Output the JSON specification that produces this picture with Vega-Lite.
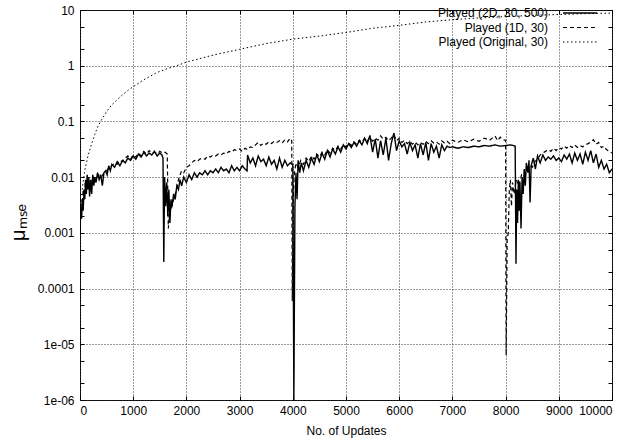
{
  "$schema": "https://vega.github.io/schema/vega-lite/v6.json",
  "width": 532,
  "height": 390,
  "autosize": {"type": "none"},
  "padding": {"left": 80, "top": 10, "right": 17, "bottom": 40},
  "background": "white",
  "config": {
    "font": "Liberation Sans",
    "view": {"stroke": "black", "strokeWidth": 1},
    "axis": {
      "labelFont": "Liberation Sans", "labelFontSize": 12, "labelColor": "black",
      "titleFont": "Liberation Sans", "titleFontSize": 12, "titleFontWeight": "normal", "titleColor": "black",
      "domain": false, "tickColor": "black", "tickWidth": 1,
      "gridColor": "#333", "gridDash": [1, 2], "gridWidth": 1
    },
    "legend": {"labelFont": "Liberation Sans", "labelFontSize": 12, "labelColor": "black"}
  },
  "data": {
    "values": [
      {"update": 0, "mse": 0.001, "series": "Played (2D, 30, 500)"},
      {"update": 15, "mse": 0.003, "series": "Played (2D, 30, 500)"},
      {"update": 30, "mse": 0.0018, "series": "Played (2D, 30, 500)"},
      {"update": 45, "mse": 0.004, "series": "Played (2D, 30, 500)"},
      {"update": 60, "mse": 0.0025, "series": "Played (2D, 30, 500)"},
      {"update": 75, "mse": 0.006, "series": "Played (2D, 30, 500)"},
      {"update": 90, "mse": 0.004, "series": "Played (2D, 30, 500)"},
      {"update": 105, "mse": 0.009, "series": "Played (2D, 30, 500)"},
      {"update": 120, "mse": 0.005, "series": "Played (2D, 30, 500)"},
      {"update": 135, "mse": 0.011, "series": "Played (2D, 30, 500)"},
      {"update": 150, "mse": 0.006, "series": "Played (2D, 30, 500)"},
      {"update": 165, "mse": 0.01, "series": "Played (2D, 30, 500)"},
      {"update": 180, "mse": 0.0045, "series": "Played (2D, 30, 500)"},
      {"update": 200, "mse": 0.009, "series": "Played (2D, 30, 500)"},
      {"update": 220, "mse": 0.005, "series": "Played (2D, 30, 500)"},
      {"update": 240, "mse": 0.011, "series": "Played (2D, 30, 500)"},
      {"update": 260, "mse": 0.007, "series": "Played (2D, 30, 500)"},
      {"update": 280, "mse": 0.01, "series": "Played (2D, 30, 500)"},
      {"update": 300, "mse": 0.008, "series": "Played (2D, 30, 500)"},
      {"update": 330, "mse": 0.012, "series": "Played (2D, 30, 500)"},
      {"update": 360, "mse": 0.009, "series": "Played (2D, 30, 500)"},
      {"update": 390, "mse": 0.011, "series": "Played (2D, 30, 500)"},
      {"update": 420, "mse": 0.007, "series": "Played (2D, 30, 500)"},
      {"update": 450, "mse": 0.012, "series": "Played (2D, 30, 500)"},
      {"update": 480, "mse": 0.013, "series": "Played (2D, 30, 500)"},
      {"update": 510, "mse": 0.011, "series": "Played (2D, 30, 500)"},
      {"update": 540, "mse": 0.016, "series": "Played (2D, 30, 500)"},
      {"update": 570, "mse": 0.013, "series": "Played (2D, 30, 500)"},
      {"update": 600, "mse": 0.017, "series": "Played (2D, 30, 500)"},
      {"update": 650, "mse": 0.015, "series": "Played (2D, 30, 500)"},
      {"update": 700, "mse": 0.019, "series": "Played (2D, 30, 500)"},
      {"update": 750, "mse": 0.016, "series": "Played (2D, 30, 500)"},
      {"update": 800, "mse": 0.02, "series": "Played (2D, 30, 500)"},
      {"update": 850, "mse": 0.018, "series": "Played (2D, 30, 500)"},
      {"update": 900, "mse": 0.022, "series": "Played (2D, 30, 500)"},
      {"update": 950, "mse": 0.02, "series": "Played (2D, 30, 500)"},
      {"update": 1000, "mse": 0.024, "series": "Played (2D, 30, 500)"},
      {"update": 1050, "mse": 0.021, "series": "Played (2D, 30, 500)"},
      {"update": 1100, "mse": 0.026, "series": "Played (2D, 30, 500)"},
      {"update": 1150, "mse": 0.023, "series": "Played (2D, 30, 500)"},
      {"update": 1200, "mse": 0.028, "series": "Played (2D, 30, 500)"},
      {"update": 1250, "mse": 0.024, "series": "Played (2D, 30, 500)"},
      {"update": 1300, "mse": 0.027, "series": "Played (2D, 30, 500)"},
      {"update": 1350, "mse": 0.025, "series": "Played (2D, 30, 500)"},
      {"update": 1400, "mse": 0.029, "series": "Played (2D, 30, 500)"},
      {"update": 1450, "mse": 0.024, "series": "Played (2D, 30, 500)"},
      {"update": 1500, "mse": 0.027, "series": "Played (2D, 30, 500)"},
      {"update": 1540, "mse": 0.025, "series": "Played (2D, 30, 500)"},
      {"update": 1560, "mse": 0.022, "series": "Played (2D, 30, 500)"},
      {"update": 1575, "mse": 0.0003, "series": "Played (2D, 30, 500)"},
      {"update": 1590, "mse": 0.01, "series": "Played (2D, 30, 500)"},
      {"update": 1610, "mse": 0.003, "series": "Played (2D, 30, 500)"},
      {"update": 1630, "mse": 0.008, "series": "Played (2D, 30, 500)"},
      {"update": 1650, "mse": 0.002, "series": "Played (2D, 30, 500)"},
      {"update": 1670, "mse": 0.006, "series": "Played (2D, 30, 500)"},
      {"update": 1690, "mse": 0.0015, "series": "Played (2D, 30, 500)"},
      {"update": 1710, "mse": 0.004, "series": "Played (2D, 30, 500)"},
      {"update": 1730, "mse": 0.003, "series": "Played (2D, 30, 500)"},
      {"update": 1760, "mse": 0.005, "series": "Played (2D, 30, 500)"},
      {"update": 1790, "mse": 0.004, "series": "Played (2D, 30, 500)"},
      {"update": 1820, "mse": 0.007, "series": "Played (2D, 30, 500)"},
      {"update": 1850, "mse": 0.006, "series": "Played (2D, 30, 500)"},
      {"update": 1880, "mse": 0.009, "series": "Played (2D, 30, 500)"},
      {"update": 1910, "mse": 0.007, "series": "Played (2D, 30, 500)"},
      {"update": 1950, "mse": 0.01, "series": "Played (2D, 30, 500)"},
      {"update": 2000, "mse": 0.008, "series": "Played (2D, 30, 500)"},
      {"update": 2050, "mse": 0.011, "series": "Played (2D, 30, 500)"},
      {"update": 2100, "mse": 0.009, "series": "Played (2D, 30, 500)"},
      {"update": 2150, "mse": 0.012, "series": "Played (2D, 30, 500)"},
      {"update": 2200, "mse": 0.01, "series": "Played (2D, 30, 500)"},
      {"update": 2250, "mse": 0.012, "series": "Played (2D, 30, 500)"},
      {"update": 2300, "mse": 0.011, "series": "Played (2D, 30, 500)"},
      {"update": 2350, "mse": 0.013, "series": "Played (2D, 30, 500)"},
      {"update": 2400, "mse": 0.011, "series": "Played (2D, 30, 500)"},
      {"update": 2450, "mse": 0.013, "series": "Played (2D, 30, 500)"},
      {"update": 2500, "mse": 0.012, "series": "Played (2D, 30, 500)"},
      {"update": 2550, "mse": 0.014, "series": "Played (2D, 30, 500)"},
      {"update": 2600, "mse": 0.012, "series": "Played (2D, 30, 500)"},
      {"update": 2650, "mse": 0.015, "series": "Played (2D, 30, 500)"},
      {"update": 2700, "mse": 0.013, "series": "Played (2D, 30, 500)"},
      {"update": 2750, "mse": 0.014, "series": "Played (2D, 30, 500)"},
      {"update": 2800, "mse": 0.012, "series": "Played (2D, 30, 500)"},
      {"update": 2850, "mse": 0.016, "series": "Played (2D, 30, 500)"},
      {"update": 2900, "mse": 0.013, "series": "Played (2D, 30, 500)"},
      {"update": 2950, "mse": 0.015, "series": "Played (2D, 30, 500)"},
      {"update": 3000, "mse": 0.013, "series": "Played (2D, 30, 500)"},
      {"update": 3050, "mse": 0.016, "series": "Played (2D, 30, 500)"},
      {"update": 3100, "mse": 0.014, "series": "Played (2D, 30, 500)"},
      {"update": 3140, "mse": 0.013, "series": "Played (2D, 30, 500)"},
      {"update": 3150, "mse": 0.025, "series": "Played (2D, 30, 500)"},
      {"update": 3200, "mse": 0.018, "series": "Played (2D, 30, 500)"},
      {"update": 3250, "mse": 0.022, "series": "Played (2D, 30, 500)"},
      {"update": 3300, "mse": 0.016, "series": "Played (2D, 30, 500)"},
      {"update": 3350, "mse": 0.024, "series": "Played (2D, 30, 500)"},
      {"update": 3400, "mse": 0.019, "series": "Played (2D, 30, 500)"},
      {"update": 3450, "mse": 0.021, "series": "Played (2D, 30, 500)"},
      {"update": 3500, "mse": 0.016, "series": "Played (2D, 30, 500)"},
      {"update": 3550, "mse": 0.023, "series": "Played (2D, 30, 500)"},
      {"update": 3600, "mse": 0.017, "series": "Played (2D, 30, 500)"},
      {"update": 3650, "mse": 0.02, "series": "Played (2D, 30, 500)"},
      {"update": 3700, "mse": 0.014, "series": "Played (2D, 30, 500)"},
      {"update": 3750, "mse": 0.022, "series": "Played (2D, 30, 500)"},
      {"update": 3800, "mse": 0.015, "series": "Played (2D, 30, 500)"},
      {"update": 3850, "mse": 0.02, "series": "Played (2D, 30, 500)"},
      {"update": 3900, "mse": 0.016, "series": "Played (2D, 30, 500)"},
      {"update": 3950, "mse": 0.018, "series": "Played (2D, 30, 500)"},
      {"update": 4000, "mse": 0.017, "series": "Played (2D, 30, 500)"},
      {"update": 4020, "mse": 0.000001, "series": "Played (2D, 30, 500)"},
      {"update": 4040, "mse": 0.003, "series": "Played (2D, 30, 500)"},
      {"update": 4060, "mse": 0.012, "series": "Played (2D, 30, 500)"},
      {"update": 4080, "mse": 0.004, "series": "Played (2D, 30, 500)"},
      {"update": 4100, "mse": 0.02, "series": "Played (2D, 30, 500)"},
      {"update": 4130, "mse": 0.012, "series": "Played (2D, 30, 500)"},
      {"update": 4160, "mse": 0.018, "series": "Played (2D, 30, 500)"},
      {"update": 4200, "mse": 0.013, "series": "Played (2D, 30, 500)"},
      {"update": 4250, "mse": 0.02, "series": "Played (2D, 30, 500)"},
      {"update": 4300, "mse": 0.015, "series": "Played (2D, 30, 500)"},
      {"update": 4350, "mse": 0.022, "series": "Played (2D, 30, 500)"},
      {"update": 4400, "mse": 0.017, "series": "Played (2D, 30, 500)"},
      {"update": 4450, "mse": 0.025, "series": "Played (2D, 30, 500)"},
      {"update": 4500, "mse": 0.019, "series": "Played (2D, 30, 500)"},
      {"update": 4550, "mse": 0.027, "series": "Played (2D, 30, 500)"},
      {"update": 4600, "mse": 0.021, "series": "Played (2D, 30, 500)"},
      {"update": 4650, "mse": 0.03, "series": "Played (2D, 30, 500)"},
      {"update": 4700, "mse": 0.023, "series": "Played (2D, 30, 500)"},
      {"update": 4750, "mse": 0.032, "series": "Played (2D, 30, 500)"},
      {"update": 4800, "mse": 0.026, "series": "Played (2D, 30, 500)"},
      {"update": 4850, "mse": 0.035, "series": "Played (2D, 30, 500)"},
      {"update": 4900, "mse": 0.028, "series": "Played (2D, 30, 500)"},
      {"update": 4950, "mse": 0.038, "series": "Played (2D, 30, 500)"},
      {"update": 5000, "mse": 0.032, "series": "Played (2D, 30, 500)"},
      {"update": 5050, "mse": 0.04, "series": "Played (2D, 30, 500)"},
      {"update": 5100, "mse": 0.034, "series": "Played (2D, 30, 500)"},
      {"update": 5150, "mse": 0.042, "series": "Played (2D, 30, 500)"},
      {"update": 5200, "mse": 0.036, "series": "Played (2D, 30, 500)"},
      {"update": 5250, "mse": 0.045, "series": "Played (2D, 30, 500)"},
      {"update": 5300, "mse": 0.038, "series": "Played (2D, 30, 500)"},
      {"update": 5350, "mse": 0.05, "series": "Played (2D, 30, 500)"},
      {"update": 5400, "mse": 0.04, "series": "Played (2D, 30, 500)"},
      {"update": 5450, "mse": 0.056, "series": "Played (2D, 30, 500)"},
      {"update": 5500, "mse": 0.028, "series": "Played (2D, 30, 500)"},
      {"update": 5550, "mse": 0.048, "series": "Played (2D, 30, 500)"},
      {"update": 5600, "mse": 0.022, "series": "Played (2D, 30, 500)"},
      {"update": 5650, "mse": 0.045, "series": "Played (2D, 30, 500)"},
      {"update": 5700, "mse": 0.025, "series": "Played (2D, 30, 500)"},
      {"update": 5750, "mse": 0.05, "series": "Played (2D, 30, 500)"},
      {"update": 5800, "mse": 0.02, "series": "Played (2D, 30, 500)"},
      {"update": 5850, "mse": 0.04, "series": "Played (2D, 30, 500)"},
      {"update": 5900, "mse": 0.062, "series": "Played (2D, 30, 500)"},
      {"update": 5950, "mse": 0.03, "series": "Played (2D, 30, 500)"},
      {"update": 6000, "mse": 0.045, "series": "Played (2D, 30, 500)"},
      {"update": 6050, "mse": 0.035, "series": "Played (2D, 30, 500)"},
      {"update": 6100, "mse": 0.04, "series": "Played (2D, 30, 500)"},
      {"update": 6150, "mse": 0.026, "series": "Played (2D, 30, 500)"},
      {"update": 6200, "mse": 0.042, "series": "Played (2D, 30, 500)"},
      {"update": 6250, "mse": 0.03, "series": "Played (2D, 30, 500)"},
      {"update": 6300, "mse": 0.038, "series": "Played (2D, 30, 500)"},
      {"update": 6350, "mse": 0.022, "series": "Played (2D, 30, 500)"},
      {"update": 6400, "mse": 0.04, "series": "Played (2D, 30, 500)"},
      {"update": 6450, "mse": 0.025, "series": "Played (2D, 30, 500)"},
      {"update": 6500, "mse": 0.042, "series": "Played (2D, 30, 500)"},
      {"update": 6550, "mse": 0.02, "series": "Played (2D, 30, 500)"},
      {"update": 6600, "mse": 0.04, "series": "Played (2D, 30, 500)"},
      {"update": 6650, "mse": 0.028, "series": "Played (2D, 30, 500)"},
      {"update": 6700, "mse": 0.036, "series": "Played (2D, 30, 500)"},
      {"update": 6750, "mse": 0.022, "series": "Played (2D, 30, 500)"},
      {"update": 6800, "mse": 0.038, "series": "Played (2D, 30, 500)"},
      {"update": 6850, "mse": 0.03, "series": "Played (2D, 30, 500)"},
      {"update": 6900, "mse": 0.036, "series": "Played (2D, 30, 500)"},
      {"update": 6950, "mse": 0.034, "series": "Played (2D, 30, 500)"},
      {"update": 7000, "mse": 0.035, "series": "Played (2D, 30, 500)"},
      {"update": 7100, "mse": 0.033, "series": "Played (2D, 30, 500)"},
      {"update": 7200, "mse": 0.035, "series": "Played (2D, 30, 500)"},
      {"update": 7300, "mse": 0.034, "series": "Played (2D, 30, 500)"},
      {"update": 7400, "mse": 0.036, "series": "Played (2D, 30, 500)"},
      {"update": 7500, "mse": 0.035, "series": "Played (2D, 30, 500)"},
      {"update": 7600, "mse": 0.037, "series": "Played (2D, 30, 500)"},
      {"update": 7700, "mse": 0.036, "series": "Played (2D, 30, 500)"},
      {"update": 7800, "mse": 0.038, "series": "Played (2D, 30, 500)"},
      {"update": 7900, "mse": 0.036, "series": "Played (2D, 30, 500)"},
      {"update": 8000, "mse": 0.037, "series": "Played (2D, 30, 500)"},
      {"update": 8100, "mse": 0.038, "series": "Played (2D, 30, 500)"},
      {"update": 8180, "mse": 0.036, "series": "Played (2D, 30, 500)"},
      {"update": 8195, "mse": 0.00028, "series": "Played (2D, 30, 500)"},
      {"update": 8210, "mse": 0.006, "series": "Played (2D, 30, 500)"},
      {"update": 8225, "mse": 0.0015, "series": "Played (2D, 30, 500)"},
      {"update": 8240, "mse": 0.009, "series": "Played (2D, 30, 500)"},
      {"update": 8255, "mse": 0.0025, "series": "Played (2D, 30, 500)"},
      {"update": 8270, "mse": 0.008, "series": "Played (2D, 30, 500)"},
      {"update": 8290, "mse": 0.0012, "series": "Played (2D, 30, 500)"},
      {"update": 8310, "mse": 0.01, "series": "Played (2D, 30, 500)"},
      {"update": 8330, "mse": 0.005, "series": "Played (2D, 30, 500)"},
      {"update": 8350, "mse": 0.014, "series": "Played (2D, 30, 500)"},
      {"update": 8370, "mse": 0.007, "series": "Played (2D, 30, 500)"},
      {"update": 8390, "mse": 0.018, "series": "Played (2D, 30, 500)"},
      {"update": 8420, "mse": 0.012, "series": "Played (2D, 30, 500)"},
      {"update": 8440, "mse": 0.02, "series": "Played (2D, 30, 500)"},
      {"update": 8460, "mse": 0.0035, "series": "Played (2D, 30, 500)"},
      {"update": 8480, "mse": 0.016, "series": "Played (2D, 30, 500)"},
      {"update": 8520, "mse": 0.022, "series": "Played (2D, 30, 500)"},
      {"update": 8560, "mse": 0.014, "series": "Played (2D, 30, 500)"},
      {"update": 8600, "mse": 0.024, "series": "Played (2D, 30, 500)"},
      {"update": 8650, "mse": 0.018, "series": "Played (2D, 30, 500)"},
      {"update": 8700, "mse": 0.025, "series": "Played (2D, 30, 500)"},
      {"update": 8750, "mse": 0.02, "series": "Played (2D, 30, 500)"},
      {"update": 8800, "mse": 0.023, "series": "Played (2D, 30, 500)"},
      {"update": 8850, "mse": 0.021, "series": "Played (2D, 30, 500)"},
      {"update": 8900, "mse": 0.024, "series": "Played (2D, 30, 500)"},
      {"update": 8950, "mse": 0.02, "series": "Played (2D, 30, 500)"},
      {"update": 9000, "mse": 0.022, "series": "Played (2D, 30, 500)"},
      {"update": 9050, "mse": 0.019, "series": "Played (2D, 30, 500)"},
      {"update": 9100, "mse": 0.025, "series": "Played (2D, 30, 500)"},
      {"update": 9150, "mse": 0.021, "series": "Played (2D, 30, 500)"},
      {"update": 9200, "mse": 0.026, "series": "Played (2D, 30, 500)"},
      {"update": 9250, "mse": 0.018, "series": "Played (2D, 30, 500)"},
      {"update": 9300, "mse": 0.027, "series": "Played (2D, 30, 500)"},
      {"update": 9350, "mse": 0.02, "series": "Played (2D, 30, 500)"},
      {"update": 9400, "mse": 0.026, "series": "Played (2D, 30, 500)"},
      {"update": 9450, "mse": 0.017, "series": "Played (2D, 30, 500)"},
      {"update": 9500, "mse": 0.028, "series": "Played (2D, 30, 500)"},
      {"update": 9550, "mse": 0.02, "series": "Played (2D, 30, 500)"},
      {"update": 9600, "mse": 0.03, "series": "Played (2D, 30, 500)"},
      {"update": 9650, "mse": 0.018, "series": "Played (2D, 30, 500)"},
      {"update": 9700, "mse": 0.026, "series": "Played (2D, 30, 500)"},
      {"update": 9750, "mse": 0.015, "series": "Played (2D, 30, 500)"},
      {"update": 9800, "mse": 0.02, "series": "Played (2D, 30, 500)"},
      {"update": 9850, "mse": 0.014, "series": "Played (2D, 30, 500)"},
      {"update": 9900, "mse": 0.017, "series": "Played (2D, 30, 500)"},
      {"update": 9950, "mse": 0.012, "series": "Played (2D, 30, 500)"},
      {"update": 10000, "mse": 0.014, "series": "Played (2D, 30, 500)"},

      {"update": 0, "mse": 0.002, "series": "Played (1D, 30)"},
      {"update": 20, "mse": 0.004, "series": "Played (1D, 30)"},
      {"update": 40, "mse": 0.003, "series": "Played (1D, 30)"},
      {"update": 60, "mse": 0.006, "series": "Played (1D, 30)"},
      {"update": 80, "mse": 0.004, "series": "Played (1D, 30)"},
      {"update": 100, "mse": 0.008, "series": "Played (1D, 30)"},
      {"update": 130, "mse": 0.006, "series": "Played (1D, 30)"},
      {"update": 160, "mse": 0.01, "series": "Played (1D, 30)"},
      {"update": 200, "mse": 0.008, "series": "Played (1D, 30)"},
      {"update": 250, "mse": 0.01, "series": "Played (1D, 30)"},
      {"update": 300, "mse": 0.009, "series": "Played (1D, 30)"},
      {"update": 350, "mse": 0.011, "series": "Played (1D, 30)"},
      {"update": 400, "mse": 0.01, "series": "Played (1D, 30)"},
      {"update": 450, "mse": 0.012, "series": "Played (1D, 30)"},
      {"update": 500, "mse": 0.013, "series": "Played (1D, 30)"},
      {"update": 550, "mse": 0.015, "series": "Played (1D, 30)"},
      {"update": 600, "mse": 0.016, "series": "Played (1D, 30)"},
      {"update": 650, "mse": 0.018, "series": "Played (1D, 30)"},
      {"update": 700, "mse": 0.017, "series": "Played (1D, 30)"},
      {"update": 750, "mse": 0.02, "series": "Played (1D, 30)"},
      {"update": 800, "mse": 0.019, "series": "Played (1D, 30)"},
      {"update": 850, "mse": 0.022, "series": "Played (1D, 30)"},
      {"update": 900, "mse": 0.024, "series": "Played (1D, 30)"},
      {"update": 950, "mse": 0.021, "series": "Played (1D, 30)"},
      {"update": 1000, "mse": 0.025, "series": "Played (1D, 30)"},
      {"update": 1050, "mse": 0.023, "series": "Played (1D, 30)"},
      {"update": 1100, "mse": 0.027, "series": "Played (1D, 30)"},
      {"update": 1150, "mse": 0.024, "series": "Played (1D, 30)"},
      {"update": 1200, "mse": 0.029, "series": "Played (1D, 30)"},
      {"update": 1250, "mse": 0.026, "series": "Played (1D, 30)"},
      {"update": 1300, "mse": 0.03, "series": "Played (1D, 30)"},
      {"update": 1350, "mse": 0.027, "series": "Played (1D, 30)"},
      {"update": 1400, "mse": 0.028, "series": "Played (1D, 30)"},
      {"update": 1450, "mse": 0.026, "series": "Played (1D, 30)"},
      {"update": 1500, "mse": 0.029, "series": "Played (1D, 30)"},
      {"update": 1550, "mse": 0.027, "series": "Played (1D, 30)"},
      {"update": 1600, "mse": 0.028, "series": "Played (1D, 30)"},
      {"update": 1640, "mse": 0.026, "series": "Played (1D, 30)"},
      {"update": 1660, "mse": 0.0012, "series": "Played (1D, 30)"},
      {"update": 1680, "mse": 0.002, "series": "Played (1D, 30)"},
      {"update": 1700, "mse": 0.0025, "series": "Played (1D, 30)"},
      {"update": 1730, "mse": 0.003, "series": "Played (1D, 30)"},
      {"update": 1760, "mse": 0.004, "series": "Played (1D, 30)"},
      {"update": 1790, "mse": 0.005, "series": "Played (1D, 30)"},
      {"update": 1820, "mse": 0.006, "series": "Played (1D, 30)"},
      {"update": 1850, "mse": 0.009, "series": "Played (1D, 30)"},
      {"update": 1880, "mse": 0.011, "series": "Played (1D, 30)"},
      {"update": 1910, "mse": 0.013, "series": "Played (1D, 30)"},
      {"update": 1950, "mse": 0.012, "series": "Played (1D, 30)"},
      {"update": 2000, "mse": 0.015, "series": "Played (1D, 30)"},
      {"update": 2050, "mse": 0.016, "series": "Played (1D, 30)"},
      {"update": 2100, "mse": 0.018, "series": "Played (1D, 30)"},
      {"update": 2150, "mse": 0.02, "series": "Played (1D, 30)"},
      {"update": 2200, "mse": 0.019, "series": "Played (1D, 30)"},
      {"update": 2250, "mse": 0.021, "series": "Played (1D, 30)"},
      {"update": 2300, "mse": 0.022, "series": "Played (1D, 30)"},
      {"update": 2350, "mse": 0.021, "series": "Played (1D, 30)"},
      {"update": 2400, "mse": 0.024, "series": "Played (1D, 30)"},
      {"update": 2450, "mse": 0.023, "series": "Played (1D, 30)"},
      {"update": 2500, "mse": 0.025, "series": "Played (1D, 30)"},
      {"update": 2550, "mse": 0.024, "series": "Played (1D, 30)"},
      {"update": 2600, "mse": 0.026, "series": "Played (1D, 30)"},
      {"update": 2650, "mse": 0.025, "series": "Played (1D, 30)"},
      {"update": 2700, "mse": 0.027, "series": "Played (1D, 30)"},
      {"update": 2750, "mse": 0.026, "series": "Played (1D, 30)"},
      {"update": 2800, "mse": 0.029, "series": "Played (1D, 30)"},
      {"update": 2850, "mse": 0.028, "series": "Played (1D, 30)"},
      {"update": 2900, "mse": 0.031, "series": "Played (1D, 30)"},
      {"update": 2950, "mse": 0.03, "series": "Played (1D, 30)"},
      {"update": 3000, "mse": 0.032, "series": "Played (1D, 30)"},
      {"update": 3050, "mse": 0.029, "series": "Played (1D, 30)"},
      {"update": 3100, "mse": 0.033, "series": "Played (1D, 30)"},
      {"update": 3150, "mse": 0.031, "series": "Played (1D, 30)"},
      {"update": 3200, "mse": 0.035, "series": "Played (1D, 30)"},
      {"update": 3250, "mse": 0.034, "series": "Played (1D, 30)"},
      {"update": 3300, "mse": 0.038, "series": "Played (1D, 30)"},
      {"update": 3350, "mse": 0.042, "series": "Played (1D, 30)"},
      {"update": 3400, "mse": 0.037, "series": "Played (1D, 30)"},
      {"update": 3450, "mse": 0.041, "series": "Played (1D, 30)"},
      {"update": 3500, "mse": 0.039, "series": "Played (1D, 30)"},
      {"update": 3550, "mse": 0.043, "series": "Played (1D, 30)"},
      {"update": 3600, "mse": 0.04, "series": "Played (1D, 30)"},
      {"update": 3650, "mse": 0.044, "series": "Played (1D, 30)"},
      {"update": 3700, "mse": 0.042, "series": "Played (1D, 30)"},
      {"update": 3750, "mse": 0.045, "series": "Played (1D, 30)"},
      {"update": 3800, "mse": 0.041, "series": "Played (1D, 30)"},
      {"update": 3850, "mse": 0.047, "series": "Played (1D, 30)"},
      {"update": 3900, "mse": 0.043, "series": "Played (1D, 30)"},
      {"update": 3950, "mse": 0.05, "series": "Played (1D, 30)"},
      {"update": 3980, "mse": 0.045, "series": "Played (1D, 30)"},
      {"update": 3990, "mse": 0.00006, "series": "Played (1D, 30)"},
      {"update": 4010, "mse": 0.005, "series": "Played (1D, 30)"},
      {"update": 4030, "mse": 0.012, "series": "Played (1D, 30)"},
      {"update": 4060, "mse": 0.018, "series": "Played (1D, 30)"},
      {"update": 4100, "mse": 0.015, "series": "Played (1D, 30)"},
      {"update": 4150, "mse": 0.02, "series": "Played (1D, 30)"},
      {"update": 4200, "mse": 0.017, "series": "Played (1D, 30)"},
      {"update": 4250, "mse": 0.022, "series": "Played (1D, 30)"},
      {"update": 4300, "mse": 0.019, "series": "Played (1D, 30)"},
      {"update": 4350, "mse": 0.024, "series": "Played (1D, 30)"},
      {"update": 4400, "mse": 0.021, "series": "Played (1D, 30)"},
      {"update": 4450, "mse": 0.026, "series": "Played (1D, 30)"},
      {"update": 4500, "mse": 0.023, "series": "Played (1D, 30)"},
      {"update": 4550, "mse": 0.028, "series": "Played (1D, 30)"},
      {"update": 4600, "mse": 0.025, "series": "Played (1D, 30)"},
      {"update": 4650, "mse": 0.031, "series": "Played (1D, 30)"},
      {"update": 4700, "mse": 0.027, "series": "Played (1D, 30)"},
      {"update": 4750, "mse": 0.033, "series": "Played (1D, 30)"},
      {"update": 4800, "mse": 0.03, "series": "Played (1D, 30)"},
      {"update": 4850, "mse": 0.036, "series": "Played (1D, 30)"},
      {"update": 4900, "mse": 0.032, "series": "Played (1D, 30)"},
      {"update": 4950, "mse": 0.038, "series": "Played (1D, 30)"},
      {"update": 5000, "mse": 0.035, "series": "Played (1D, 30)"},
      {"update": 5050, "mse": 0.041, "series": "Played (1D, 30)"},
      {"update": 5100, "mse": 0.037, "series": "Played (1D, 30)"},
      {"update": 5150, "mse": 0.043, "series": "Played (1D, 30)"},
      {"update": 5200, "mse": 0.039, "series": "Played (1D, 30)"},
      {"update": 5250, "mse": 0.046, "series": "Played (1D, 30)"},
      {"update": 5300, "mse": 0.042, "series": "Played (1D, 30)"},
      {"update": 5350, "mse": 0.05, "series": "Played (1D, 30)"},
      {"update": 5400, "mse": 0.045, "series": "Played (1D, 30)"},
      {"update": 5450, "mse": 0.052, "series": "Played (1D, 30)"},
      {"update": 5500, "mse": 0.044, "series": "Played (1D, 30)"},
      {"update": 5550, "mse": 0.05, "series": "Played (1D, 30)"},
      {"update": 5600, "mse": 0.046, "series": "Played (1D, 30)"},
      {"update": 5650, "mse": 0.055, "series": "Played (1D, 30)"},
      {"update": 5700, "mse": 0.048, "series": "Played (1D, 30)"},
      {"update": 5750, "mse": 0.052, "series": "Played (1D, 30)"},
      {"update": 5800, "mse": 0.045, "series": "Played (1D, 30)"},
      {"update": 5850, "mse": 0.05, "series": "Played (1D, 30)"},
      {"update": 5900, "mse": 0.058, "series": "Played (1D, 30)"},
      {"update": 5950, "mse": 0.045, "series": "Played (1D, 30)"},
      {"update": 6000, "mse": 0.05, "series": "Played (1D, 30)"},
      {"update": 6050, "mse": 0.042, "series": "Played (1D, 30)"},
      {"update": 6100, "mse": 0.046, "series": "Played (1D, 30)"},
      {"update": 6150, "mse": 0.04, "series": "Played (1D, 30)"},
      {"update": 6200, "mse": 0.044, "series": "Played (1D, 30)"},
      {"update": 6250, "mse": 0.039, "series": "Played (1D, 30)"},
      {"update": 6300, "mse": 0.043, "series": "Played (1D, 30)"},
      {"update": 6350, "mse": 0.038, "series": "Played (1D, 30)"},
      {"update": 6400, "mse": 0.042, "series": "Played (1D, 30)"},
      {"update": 6450, "mse": 0.039, "series": "Played (1D, 30)"},
      {"update": 6500, "mse": 0.044, "series": "Played (1D, 30)"},
      {"update": 6550, "mse": 0.04, "series": "Played (1D, 30)"},
      {"update": 6600, "mse": 0.045, "series": "Played (1D, 30)"},
      {"update": 6650, "mse": 0.041, "series": "Played (1D, 30)"},
      {"update": 6700, "mse": 0.043, "series": "Played (1D, 30)"},
      {"update": 6750, "mse": 0.039, "series": "Played (1D, 30)"},
      {"update": 6800, "mse": 0.045, "series": "Played (1D, 30)"},
      {"update": 6850, "mse": 0.041, "series": "Played (1D, 30)"},
      {"update": 6900, "mse": 0.044, "series": "Played (1D, 30)"},
      {"update": 6950, "mse": 0.04, "series": "Played (1D, 30)"},
      {"update": 7000, "mse": 0.046, "series": "Played (1D, 30)"},
      {"update": 7100, "mse": 0.042, "series": "Played (1D, 30)"},
      {"update": 7200, "mse": 0.047, "series": "Played (1D, 30)"},
      {"update": 7300, "mse": 0.043, "series": "Played (1D, 30)"},
      {"update": 7400, "mse": 0.048, "series": "Played (1D, 30)"},
      {"update": 7500, "mse": 0.044, "series": "Played (1D, 30)"},
      {"update": 7600, "mse": 0.05, "series": "Played (1D, 30)"},
      {"update": 7700, "mse": 0.046, "series": "Played (1D, 30)"},
      {"update": 7800, "mse": 0.055, "series": "Played (1D, 30)"},
      {"update": 7850, "mse": 0.045, "series": "Played (1D, 30)"},
      {"update": 7900, "mse": 0.052, "series": "Played (1D, 30)"},
      {"update": 7950, "mse": 0.047, "series": "Played (1D, 30)"},
      {"update": 8000, "mse": 0.046, "series": "Played (1D, 30)"},
      {"update": 8010, "mse": 0.0000064, "series": "Played (1D, 30)"},
      {"update": 8030, "mse": 0.0008, "series": "Played (1D, 30)"},
      {"update": 8050, "mse": 0.001, "series": "Played (1D, 30)"},
      {"update": 8070, "mse": 0.006, "series": "Played (1D, 30)"},
      {"update": 8090, "mse": 0.009, "series": "Played (1D, 30)"},
      {"update": 8110, "mse": 0.003, "series": "Played (1D, 30)"},
      {"update": 8130, "mse": 0.008, "series": "Played (1D, 30)"},
      {"update": 8160, "mse": 0.005, "series": "Played (1D, 30)"},
      {"update": 8200, "mse": 0.009, "series": "Played (1D, 30)"},
      {"update": 8250, "mse": 0.007, "series": "Played (1D, 30)"},
      {"update": 8300, "mse": 0.011, "series": "Played (1D, 30)"},
      {"update": 8350, "mse": 0.01, "series": "Played (1D, 30)"},
      {"update": 8400, "mse": 0.014, "series": "Played (1D, 30)"},
      {"update": 8450, "mse": 0.016, "series": "Played (1D, 30)"},
      {"update": 8500, "mse": 0.015, "series": "Played (1D, 30)"},
      {"update": 8550, "mse": 0.019, "series": "Played (1D, 30)"},
      {"update": 8600, "mse": 0.021, "series": "Played (1D, 30)"},
      {"update": 8650, "mse": 0.025, "series": "Played (1D, 30)"},
      {"update": 8700, "mse": 0.027, "series": "Played (1D, 30)"},
      {"update": 8750, "mse": 0.029, "series": "Played (1D, 30)"},
      {"update": 8800, "mse": 0.031, "series": "Played (1D, 30)"},
      {"update": 8850, "mse": 0.029, "series": "Played (1D, 30)"},
      {"update": 8900, "mse": 0.033, "series": "Played (1D, 30)"},
      {"update": 8950, "mse": 0.03, "series": "Played (1D, 30)"},
      {"update": 9000, "mse": 0.034, "series": "Played (1D, 30)"},
      {"update": 9050, "mse": 0.032, "series": "Played (1D, 30)"},
      {"update": 9100, "mse": 0.036, "series": "Played (1D, 30)"},
      {"update": 9150, "mse": 0.033, "series": "Played (1D, 30)"},
      {"update": 9200, "mse": 0.037, "series": "Played (1D, 30)"},
      {"update": 9250, "mse": 0.034, "series": "Played (1D, 30)"},
      {"update": 9300, "mse": 0.038, "series": "Played (1D, 30)"},
      {"update": 9350, "mse": 0.034, "series": "Played (1D, 30)"},
      {"update": 9400, "mse": 0.037, "series": "Played (1D, 30)"},
      {"update": 9450, "mse": 0.035, "series": "Played (1D, 30)"},
      {"update": 9500, "mse": 0.038, "series": "Played (1D, 30)"},
      {"update": 9550, "mse": 0.04, "series": "Played (1D, 30)"},
      {"update": 9600, "mse": 0.043, "series": "Played (1D, 30)"},
      {"update": 9650, "mse": 0.047, "series": "Played (1D, 30)"},
      {"update": 9700, "mse": 0.039, "series": "Played (1D, 30)"},
      {"update": 9750, "mse": 0.042, "series": "Played (1D, 30)"},
      {"update": 9800, "mse": 0.034, "series": "Played (1D, 30)"},
      {"update": 9850, "mse": 0.036, "series": "Played (1D, 30)"},
      {"update": 9900, "mse": 0.031, "series": "Played (1D, 30)"},
      {"update": 9950, "mse": 0.029, "series": "Played (1D, 30)"},
      {"update": 10000, "mse": 0.027, "series": "Played (1D, 30)"},

      {"update": 40, "mse": 0.006, "series": "Played (Original, 30)"},
      {"update": 88, "mse": 0.013, "series": "Played (Original, 30)"},
      {"update": 150, "mse": 0.024, "series": "Played (Original, 30)"},
      {"update": 213, "mse": 0.038, "series": "Played (Original, 30)"},
      {"update": 275, "mse": 0.058, "series": "Played (Original, 30)"},
      {"update": 338, "mse": 0.082, "series": "Played (Original, 30)"},
      {"update": 400, "mse": 0.105, "series": "Played (Original, 30)"},
      {"update": 500, "mse": 0.15, "series": "Played (Original, 30)"},
      {"update": 600, "mse": 0.2, "series": "Played (Original, 30)"},
      {"update": 700, "mse": 0.245, "series": "Played (Original, 30)"},
      {"update": 800, "mse": 0.3, "series": "Played (Original, 30)"},
      {"update": 900, "mse": 0.36, "series": "Played (Original, 30)"},
      {"update": 1000, "mse": 0.42, "series": "Played (Original, 30)"},
      {"update": 1200, "mse": 0.56, "series": "Played (Original, 30)"},
      {"update": 1440, "mse": 0.75, "series": "Played (Original, 30)"},
      {"update": 1600, "mse": 0.86, "series": "Played (Original, 30)"},
      {"update": 1817, "mse": 1.0, "series": "Played (Original, 30)"},
      {"update": 2000, "mse": 1.16, "series": "Played (Original, 30)"},
      {"update": 2500, "mse": 1.55, "series": "Played (Original, 30)"},
      {"update": 3000, "mse": 1.97, "series": "Played (Original, 30)"},
      {"update": 3500, "mse": 2.5, "series": "Played (Original, 30)"},
      {"update": 4000, "mse": 3.0, "series": "Played (Original, 30)"},
      {"update": 4500, "mse": 3.4, "series": "Played (Original, 30)"},
      {"update": 5000, "mse": 3.95, "series": "Played (Original, 30)"},
      {"update": 5500, "mse": 4.7, "series": "Played (Original, 30)"},
      {"update": 6000, "mse": 5.3, "series": "Played (Original, 30)"},
      {"update": 6500, "mse": 6.1, "series": "Played (Original, 30)"},
      {"update": 7000, "mse": 6.7, "series": "Played (Original, 30)"},
      {"update": 7500, "mse": 7.2, "series": "Played (Original, 30)"},
      {"update": 8000, "mse": 7.6, "series": "Played (Original, 30)"},
      {"update": 8500, "mse": 8.0, "series": "Played (Original, 30)"},
      {"update": 9000, "mse": 8.3, "series": "Played (Original, 30)"},
      {"update": 9500, "mse": 8.6, "series": "Played (Original, 30)"},
      {"update": 10000, "mse": 8.8, "series": "Played (Original, 30)"}
    ]
  },
  "layer": [
    {
      "mark": {"type": "line", "clip": true},
      "encoding": {
        "x": {
          "field": "update", "type": "quantitative",
          "scale": {"domain": [0, 10000], "nice": false, "zero": false},
          "axis": {
            "title": "No. of Updates", "values": [0, 1000, 2000, 3000, 4000, 5000, 6000, 7000, 8000, 9000, 10000],
            "format": "d", "grid": true, "tickSize": -4, "labelPadding": 9, "titlePadding": 9
          }
        },
        "y": {
          "field": "mse", "type": "quantitative",
          "scale": {"type": "log", "domain": [0.000001, 10], "nice": false},
          "axis": {
            "title": "μₘₛₑ", "titleFontSize": 20, "titlePadding": 9, "titleY": 212,
            "values": [0.000001, 0.000002, 0.000005, 0.00001, 0.00002, 0.00005, 0.0001, 0.0002, 0.0005, 0.001, 0.002, 0.005, 0.01, 0.02, 0.05, 0.1, 0.2, 0.5, 1, 2, 5, 10],
            "labelExpr": "abs(log(datum.value)/LN10 - round(log(datum.value)/LN10)) > 0.01 ? '' : datum.value < 0.000005 ? '1e-06' : datum.value < 0.00005 ? '1e-05' : format(datum.value, '~g')",
            "grid": true,
            "gridOpacity": {"condition": {"test": "abs(log(datum.value)/LN10 - round(log(datum.value)/LN10)) > 0.01", "value": 0}, "value": 1},
            "tickSize": -4, "labelPadding": 10
          }
        },
        "color": {
          "field": "series", "type": "nominal",
          "scale": {"domain": ["Played (2D, 30, 500)", "Played (1D, 30)", "Played (Original, 30)"], "range": ["black", "black", "black"]},
          "legend": {"title": null, "orient": "none", "legendX": 494, "legendY": -3, "symbolType": "M -3.4 0 H 3.4", "symbolSize": 100, "symbolStrokeWidth": 1.1, "labelAlign": "right", "labelOffset": -38, "rowPadding": 2.5, "padding": 0}
        },
        "strokeDash": {
          "field": "series", "type": "nominal",
          "scale": {"domain": ["Played (2D, 30, 500)", "Played (1D, 30)", "Played (Original, 30)"], "range": [[1, 0], [4, 3], [1.5, 2.5]]},
          "legend": {"title": null, "orient": "none", "legendX": 494, "legendY": -3, "symbolType": "M -3.4 0 H 3.4", "symbolSize": 100, "symbolStrokeWidth": 1.1, "labelAlign": "right", "labelOffset": -38, "rowPadding": 2.5, "padding": 0}
        },
        "strokeWidth": {
          "field": "series", "type": "nominal",
          "scale": {"domain": ["Played (2D, 30, 500)", "Played (1D, 30)", "Played (Original, 30)"], "range": [1.4, 1, 1]},
          "legend": null
        }
      }
    },
    {
      "mark": {"type": "line", "opacity": 0},
      "encoding": {
        "x": {
          "field": "update", "type": "quantitative",
          "axis": {"orient": "top", "title": null, "labels": false, "grid": false, "tickSize": -4,
            "values": [0, 1000, 2000, 3000, 4000, 5000, 6000, 7000, 8000, 9000, 10000]}
        },
        "y": {
          "field": "mse", "type": "quantitative",
          "axis": {"orient": "right", "title": null, "labels": false, "grid": false, "tickSize": -4,
            "values": [0.000001, 0.000002, 0.000005, 0.00001, 0.00002, 0.00005, 0.0001, 0.0002, 0.0005, 0.001, 0.002, 0.005, 0.01, 0.02, 0.05, 0.1, 0.2, 0.5, 1, 2, 5, 10]}
        },
        "detail": {"field": "series", "type": "nominal"}
      }
    }
  ],
  "resolve": {"axis": {"x": "independent", "y": "independent"}}
}
